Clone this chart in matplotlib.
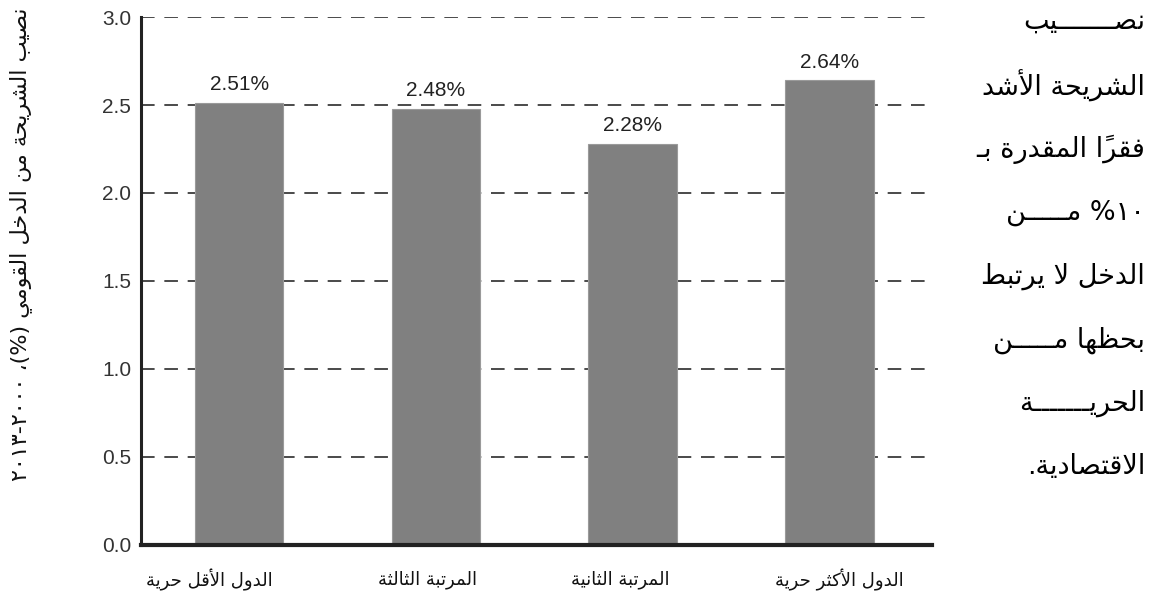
import matplotlib
matplotlib.use("Agg")
import matplotlib.pyplot as plt

# data
categories_ar = ["الدول الأقل حرية", "المرتبة الثالثة", "المرتبة الثانية", "الدول الأكثر حرية"]
values = [2.51, 2.48, 2.28, 2.64]
value_labels = ["2.51%", "2.48%", "2.28%", "2.64%"]
yticks = [0.0, 0.5, 1.0, 1.5, 2.0, 2.5, 3.0]
ylabel_ar = "نصيب الشريحة من الدخل القومي (%)، ٢٠٠٠-٢٠١٣"
note_lines = [
    "نصـــــــيب",
    "الشريحة الأشد",
    "فقرًا المقدرة بـ",
    "١٠% مـــــن",
    "الدخل لا يرتبط",
    "بحظها مـــــن",
    "الحريـــــــة",
    "الاقتصادية.",
]

# --- minimal Arabic shaping (matplotlib has no text shaping) ---
_F = {
    "ء": (0xFE80,), "آ": (0xFE81, 0xFE82), "أ": (0xFE83, 0xFE84),
    "ؤ": (0xFE85, 0xFE86), "إ": (0xFE87, 0xFE88), "ئ": (0xFE89, 0xFE8A, 0xFE8B, 0xFE8C),
    "ا": (0xFE8D, 0xFE8E), "ب": (0xFE8F, 0xFE90, 0xFE91, 0xFE92), "ة": (0xFE93, 0xFE94),
    "ت": (0xFE95, 0xFE96, 0xFE97, 0xFE98), "ث": (0xFE99, 0xFE9A, 0xFE9B, 0xFE9C),
    "ج": (0xFE9D, 0xFE9E, 0xFE9F, 0xFEA0), "ح": (0xFEA1, 0xFEA2, 0xFEA3, 0xFEA4),
    "خ": (0xFEA5, 0xFEA6, 0xFEA7, 0xFEA8), "د": (0xFEA9, 0xFEAA), "ذ": (0xFEAB, 0xFEAC),
    "ر": (0xFEAD, 0xFEAE), "ز": (0xFEAF, 0xFEB0), "س": (0xFEB1, 0xFEB2, 0xFEB3, 0xFEB4),
    "ش": (0xFEB5, 0xFEB6, 0xFEB7, 0xFEB8), "ص": (0xFEB9, 0xFEBA, 0xFEBB, 0xFEBC),
    "ض": (0xFEBD, 0xFEBE, 0xFEBF, 0xFEC0), "ط": (0xFEC1, 0xFEC2, 0xFEC3, 0xFEC4),
    "ظ": (0xFEC5, 0xFEC6, 0xFEC7, 0xFEC8), "ع": (0xFEC9, 0xFECA, 0xFECB, 0xFECC),
    "غ": (0xFECD, 0xFECE, 0xFECF, 0xFED0), "ف": (0xFED1, 0xFED2, 0xFED3, 0xFED4),
    "ق": (0xFED5, 0xFED6, 0xFED7, 0xFED8), "ك": (0xFED9, 0xFEDA, 0xFEDB, 0xFEDC),
    "ل": (0xFEDD, 0xFEDE, 0xFEDF, 0xFEE0), "م": (0xFEE1, 0xFEE2, 0xFEE3, 0xFEE4),
    "ن": (0xFEE5, 0xFEE6, 0xFEE7, 0xFEE8), "ه": (0xFEE9, 0xFEEA, 0xFEEB, 0xFEEC),
    "و": (0xFEED, 0xFEEE), "ى": (0xFEEF, 0xFEF0), "ي": (0xFEF1, 0xFEF2, 0xFEF3, 0xFEF4),
}
_LAMALEF = {"ا": (0xFEFB, 0xFEFC), "أ": (0xFEF7, 0xFEF8), "إ": (0xFEF9, 0xFEFA), "آ": (0xFEF5, 0xFEF6)}
TATWEEL = "ـ"
MIRROR = {"(": ")", ")": "(", "[": "]", "]": "["}
DIGITS = set("0123456789٠١٢٣٤٥٦٧٨٩")


def _is_mark(c):
    return 0x064B <= ord(c) <= 0x0652 or ord(c) == 0x0670


def _joins_next(c):
    return c == TATWEEL or (c in _F and len(_F[c]) == 4)


def _joins_prev(c):
    return c == TATWEEL or (c in _F and len(_F[c]) >= 2)


def ar(text):
    chars = list(text)
    base = [i for i, c in enumerate(chars) if not _is_mark(c)]
    out = []  # logical clusters
    k = 0
    while k < len(base):
        i = base[k]
        c = chars[i]
        marks = "".join(chars[j] for j in range(i + 1, base[k + 1] if k + 1 < len(base) else len(chars)))
        prev_c = chars[base[k - 1]] if k > 0 else None
        next_c = chars[base[k + 1]] if k + 1 < len(base) else None
        pj = prev_c is not None and _joins_next(prev_c)
        if c == "ل" and next_c in _LAMALEF:
            out.append(marks + chr(_LAMALEF[next_c][1 if pj else 0]))
            k += 2
            continue
        if c in _F:
            f = _F[c]
            nj = next_c is not None and _joins_next(c) and _joins_prev(next_c)
            if len(f) == 1:
                g = f[0]
            elif len(f) == 2:
                g = f[1] if pj else f[0]
            else:
                g = f[3] if (pj and nj) else f[1] if pj else f[2] if nj else f[0]
            # mark goes first so it is drawn over the glyph that follows it
            out.append(marks + chr(g))
        else:
            out.append(marks + MIRROR.get(c, c))
        k += 1
    # reverse for display, keeping digit runs left-to-right
    runs = []
    for cl in out:
        if cl[0] in DIGITS and runs and runs[-1][0] in DIGITS:
            runs[-1] += cl
        else:
            runs.append(cl)
    return "".join(reversed(runs))


AR_FONT = ["DejaVu Sans"]
NUM_FONT = ["Liberation Sans", "DejaVu Sans"]

fig = plt.figure(figsize=(11.63, 6.10), dpi=100)
ax = fig.add_axes([0.121, 0.107, 0.680, 0.865])

x = list(range(len(values)))
ax.bar(x, values, width=0.45, color="#808080", edgecolor="#9a9a9a", linewidth=0.8, zorder=3)

for xi, v, lab in zip(x, values, value_labels):
    ax.text(xi, v + 0.05, lab, ha="center", va="bottom", fontsize=15,
            family=NUM_FONT, color="#222222", zorder=4)

ax.set_xlim(-0.5, 3.52)
ax.set_ylim(0, 3.0)
ax.set_yticks(yticks)
ax.set_yticklabels([f"{t:.1f}" for t in yticks], family=NUM_FONT, fontsize=15, color="#333333")
ax.tick_params(axis="y", length=0, pad=7)
ax.set_xticks([])

for t in yticks[1:]:
    ax.axhline(t, color="#4a4a4a", linestyle=(0, (7, 5)), linewidth=1.4, zorder=1)

for s in ["top", "right"]:
    ax.spines[s].set_visible(False)
ax.spines["left"].set_linewidth(2.2)
ax.spines["left"].set_color("#222222")
ax.spines["bottom"].set_linewidth(3.0)
ax.spines["bottom"].set_color("#222222")
ax.spines["bottom"].set_zorder(5)

# Arabic category labels under the bars
label_offsets = [-0.15, -0.04, -0.06, 0.05]
for xi, off, lab in zip(x, label_offsets, categories_ar):
    ax.text(xi + off, -0.2, ar(lab), ha="center", va="center", fontsize=13,
            family=AR_FONT, color="#111111", clip_on=False)

# rotated y label
fig.text(0.018, 0.60, ar(ylabel_ar), rotation=90, ha="center", va="center",
         fontsize=16, family=AR_FONT, color="#111111")

# right-hand note, evenly spaced lines
n = len(note_lines)
for i, line in enumerate(note_lines):
    ypx = 22 + i * (467 - 22) / (n - 1)
    fig.text(1145 / 1163, 1 - ypx / 610, ar(line), ha="right", va="center",
             fontsize=19.5, family=AR_FONT, color="#000000")

fig.savefig("out.png", dpi=100)
